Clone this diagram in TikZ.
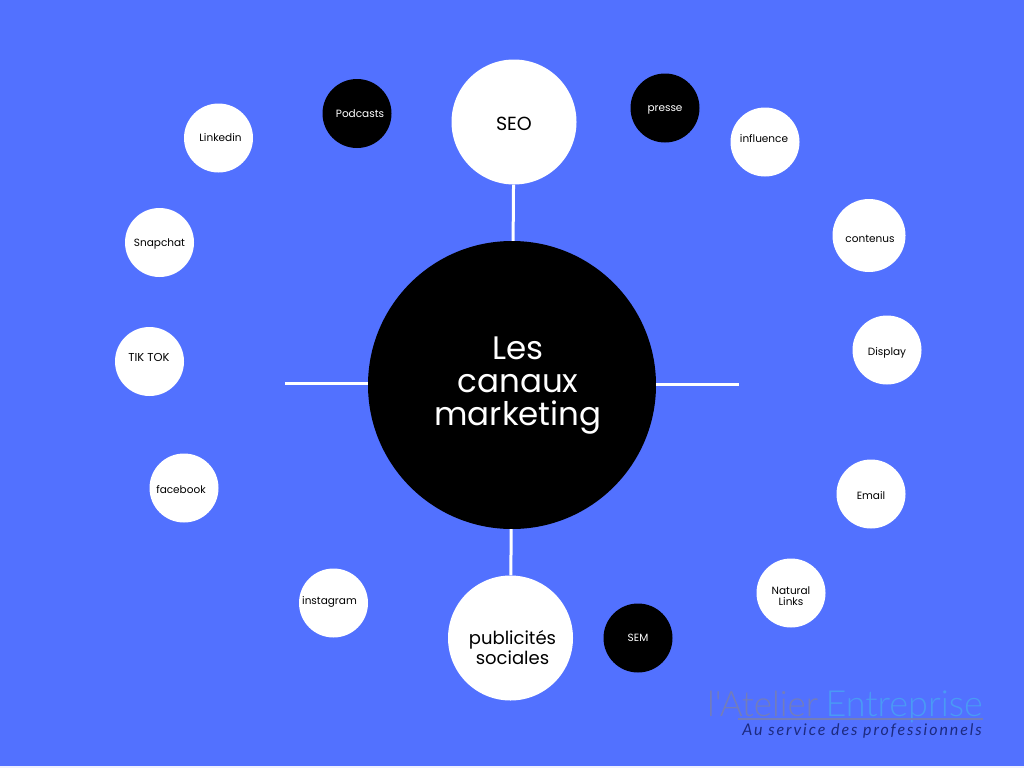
\documentclass[tikz,border=0pt]{standalone}
\usepackage{fontspec}
\setmainfont{Poppins}
\newfontfamily\logofont{Lato Light}
\newfontfamily\sublogofont[LetterSpace=12]{Lato}
\definecolor{canalblue}{HTML}{5271FF}
\definecolor{logogrey}{HTML}{737DBA}
\definecolor{logoblue}{HTML}{4A9AF5}
\definecolor{logonavy}{HTML}{1C2A80}
\tikzset{
  big/.style={circle,fill=white,minimum size=125pt,inner sep=0pt},
  small/.style={circle,fill=white,minimum size=69pt,inner sep=0pt},
  smalldark/.style={small,fill=black},
  txt/.style={inner sep=0pt,align=center,font=\fontsize{10.5}{11}\selectfont},
  txtdark/.style={txt,text=white},
  spoke/.style={draw=white,line width=3pt},
}
\begin{document}
\begin{tikzpicture}[x=1pt,y=-1pt]
\fill[canalblue] (0,0) rectangle (1024,766);
\fill[white!90!canalblue] (0,766) rectangle (1024,768);
\useasboundingbox (0,0) rectangle (1024,768);
% centre and spokes
\node[circle,fill=black,minimum size=288pt,inner sep=0pt,label={[text=white,align=center,inner sep=0pt,xshift=6pt,yshift=-1pt,font=\fontsize{32.5}{33}\selectfont]center:Les\\canaux\\marketing}] (centre) at (512,385) {};
\node[big,label={[txt,yshift=-2pt,font=\fontsize{19}{19}\selectfont]center:SEO}] (seo) at (514,122) {};
\node[big,label={[txt,xshift=2pt,yshift=-9.5pt,font=\fontsize{18}{17.5}\selectfont]center:publicités\\sociales}] (pub) at (510.5,638) {};
\coordinate (leftend) at (285,383);
\coordinate (rightend) at (739,384);
\draw[spoke] (seo) -- (centre);
\draw[spoke] (centre) -- (pub);
\draw[spoke] (centre.west |- leftend) -- (leftend);
\draw[spoke] (centre.east |- rightend) -- (rightend);
% left side
\node[smalldark,label={[txtdark,xshift=3pt]center:Podcasts}] (podcasts) at (357,113.5) {};
\node[small,label={[txt,xshift=2pt]center:Linkedin}] (linkedin) at (218.5,138) {};
\node[small,label={[txt,yshift=-1pt]center:Snapchat}] (snapchat) at (159.5,242.5) {};
\node[small,label={[txt,xshift=-0.5pt,yshift=4pt,font=\fontsize{11.5}{11}\selectfont]center:TIK TOK}] (tiktok) at (149.5,361.5) {};
\node[small,label={[txt,xshift=-3pt,yshift=-2pt]center:facebook}] (facebook) at (184,488) {};
\node[small,label={[txt,xshift=-4pt,yshift=1pt]center:instagram}] (instagram) at (333.5,603) {};
% right side
\node[smalldark,label={[txtdark,yshift=-2pt]center:presse}] (presse) at (665,108) {};
\node[small,label={[txt,xshift=-1pt,yshift=3pt]center:influence}] (influence) at (765,142) {};
\node[small,minimum size=73pt,label={[txt,xshift=1pt,yshift=-3.5pt]center:contenus}] (contenus) at (869,235.5) {};
\node[small,label={[txt,yshift=-3pt]center:Display}] (display) at (887,350) {};
\node[small,label={[txt,yshift=-2pt]center:Email}] (email) at (871,494) {};
\node[small,label={[txt,yshift=-3pt]center:Natural\\Links}] (natural) at (791,593) {};
\node[smalldark,label={[txtdark]center:SEM}] (sem) at (638,638) {};
% logo
\node[inner sep=0pt,anchor=base west,text=logogrey,font=\logofont\fontsize{35}{35}\selectfont] (logoa) at (707,716) {l'Atelier};
\node[inner sep=0pt,anchor=base east,text=logoblue,font=\logofont\fontsize{36}{36}\selectfont] (logob) at (983,716) {Entreprise};
\coordinate (rulea) at (738,719);
\coordinate (ruleb) at (983,719);
\draw[logogrey,line width=1.2pt] (rulea) -- (ruleb);
\node[inner sep=0pt,anchor=base east,text=logonavy,font=\sublogofont\itshape\fontsize{16}{16}\selectfont] (logoc) at (982,735) {Au service des professionnels};
\end{tikzpicture}
\end{document}
